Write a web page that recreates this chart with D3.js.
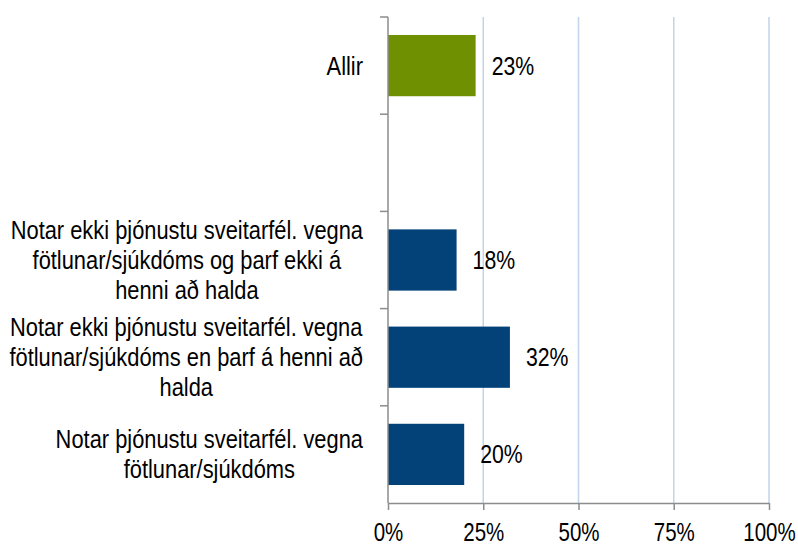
<!DOCTYPE html>
<html>
<head>
<meta charset="utf-8">
<script src="https://cdn.jsdelivr.net/npm/d3@7"></script>
<style>
  body { margin: 0; background: #fff; }
  text { font-family: "Liberation Sans", Arial, sans-serif; fill: #000; }
</style>
</head>
<body>
<svg id="chart" width="798" height="546"></svg>
<script>
// categories top to bottom, "\n" marks where the original label wraps
var categories = [
    "Allir",
    "",
    "Notar ekki þjónustu sveitarfél. vegna\nfötlunar/sjúkdóms og þarf ekki á\nhenni að halda",
    "Notar ekki þjónustu sveitarfél. vegna\nfötlunar/sjúkdóms en þarf á henni að\nhalda",
    "Notar þjónustu sveitarfél. vegna\nfötlunar/sjúkdóms"
];
var values = [23, null, 18, 32, 20];
var barColors = ["#6f9000", null, "#034278", "#034278", "#034278"];
var xTicks = [0, 25, 50, 75, 100];

var margin = { top: 17, right: 29, bottom: 43, left: 388 };
var width = 798, height = 546;
// text in the picture is narrower than the font
var squeezeCat = 0.875, squeezeVal = 0.85, squeezeTick = 0.82;

var svg = d3.select("#chart");
var x = d3.scaleLinear().domain([0, 100]).range([margin.left, width - margin.right]);
var y = d3.scaleBand().domain(d3.range(categories.length))
    .range([margin.top, height - margin.bottom]).paddingInner(0.37).paddingOuter(0.185);

var plotTop = margin.top, plotBottom = height - margin.bottom;

//gridlines
svg.append("g").selectAll("line").data(xTicks.slice(1)).enter().append("line")
    .attr("x1", function (d) { return x(d); }).attr("x2", function (d) { return x(d); })
    .attr("y1", plotTop).attr("y2", plotBottom)
    .attr("stroke", "#c2d3ea").attr("stroke-width", 1.5);

//bars
var rows = values.map(function (v, i) { return { v: v, i: i }; }).filter(function (d) { return d.v !== null; });
svg.append("g").selectAll("rect").data(rows).enter().append("rect")
    .attr("x", x(0)).attr("y", function (d) { return y(d.i); })
    .attr("width", function (d) { return x(d.v) - x(0); })
    .attr("height", y.bandwidth())
    .attr("fill", function (d) { return barColors[d.i]; });

//value labels
svg.append("g").selectAll("text").data(rows).enter().append("text")
    .attr("transform", function (d) {
        return "translate(" + (x(d.v) + 16) + "," + (y(d.i) + y.bandwidth() / 2 + 9) + ") scale(" + squeezeVal + ",1)";
    })
    .style("font-size", "25px")
    .text(function (d) { return d.v + "%"; });

//y axis: line + ticks at band boundaries
var yAxis = svg.append("g").attr("stroke", "#8c8c8c").attr("stroke-width", 1.5);
yAxis.append("line").attr("x1", x(0)).attr("x2", x(0)).attr("y1", plotTop).attr("y2", plotBottom);
yAxis.selectAll("line.tick").data(d3.range(categories.length)).enter().append("line")
    .attr("class", "tick")
    .attr("x1", x(0) - 8).attr("x2", x(0))
    .attr("y1", function (i) { return plotTop + i * (plotBottom - plotTop) / categories.length; })
    .attr("y2", function (i) { return plotTop + i * (plotBottom - plotTop) / categories.length; });

//category labels, centred lines, block right-aligned
var labelRight = 363;
var lineH = 30;
categories.forEach(function (cat, i) {
    if (!cat) return;
    var lines = cat.split("\n");
    var cy = y(i) + y.bandwidth() / 2;
    var g = svg.append("g")
        .attr("transform", "translate(" + labelRight + "," + cy + ") scale(" + squeezeCat + ",1)");
    var texts = g.selectAll("text").data(lines).enter().append("text")
        .style("font-size", "25px")
        .attr("text-anchor", "middle")
        .attr("y", function (d, k) { return (k - (lines.length - 1) / 2) * lineH + 9; })
        .text(function (d) { return d; });
    var maxW = 0;
    texts.each(function () { maxW = Math.max(maxW, this.getComputedTextLength()); });
    texts.attr("x", -maxW / 2);
});

//x axis
var xAxis = svg.append("g").attr("transform", "translate(0," + plotBottom + ")")
    .call(d3.axisBottom(x).tickValues(xTicks).tickSize(7).tickSizeOuter(0)
        .tickFormat(function (d) { return d + "%"; }));
xAxis.select(".domain").attr("stroke", "#8c8c8c").attr("stroke-width", 1.5);
xAxis.selectAll(".tick line").attr("stroke", "#8c8c8c").attr("stroke-width", 1.5);
xAxis.selectAll(".tick text")
    .style("font-size", "25px").attr("fill", "#000")
    .attr("y", 38).attr("dy", null)
    .attr("transform", "scale(" + squeezeTick + ",1)");
</script>
</body>
</html>
